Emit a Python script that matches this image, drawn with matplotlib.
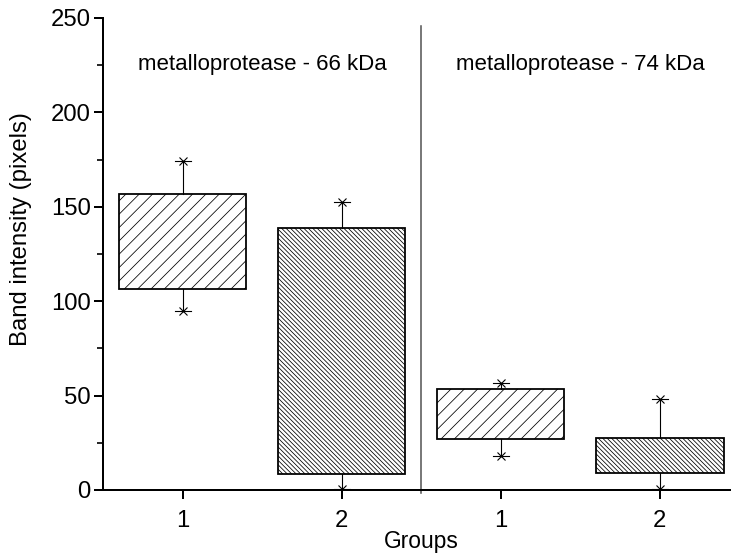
import matplotlib
matplotlib.use("Agg")
import matplotlib.pyplot as plt

# ---- data ----
positions = [1, 2, 3, 4]
tick_labels = ["1", "2", "1", "2"]
q1 = [106.5, 8.3, 27.2, 9.2]
q3 = [156.8, 138.9, 53.3, 27.4]
whislo = [94.8, 0.5, 18.0, 0.5]
whishi = [174.3, 152.4, 56.5, 48.2]
hatches = ["//", "\\\\\\\\\\\\", "//", "\\\\\\\\\\\\"]
panel_titles = ["metalloprotease - 66 kDa", "metalloprotease - 74 kDa"]
panel_centers = [1.5, 3.5]

plt.rcParams["font.family"] = ["Liberation Sans", "DejaVu Sans"]
plt.rcParams["hatch.linewidth"] = 0.7

DPI = 80
fig = plt.figure(figsize=(731 / DPI, 554 / DPI), dpi=DPI)
W, H = 731, 554
ax = fig.add_axes([103 / W, (H - 490) / H, (739.5 - 103) / W, 472 / H])

stats = []
for i in range(len(positions)):
    stats.append(dict(med=(q1[i] + q3[i]) / 2, q1=q1[i], q3=q3[i],
                      whislo=whislo[i], whishi=whishi[i],
                      fliers=[whislo[i], whishi[i]]))

bp = ax.bxp(stats, positions=positions, widths=0.8, patch_artist=True,
            showfliers=True, capwidths=0.1,
            boxprops=dict(facecolor="white", edgecolor="black", linewidth=1.6),
            whiskerprops=dict(color="black", linewidth=1.0),
            capprops=dict(color="black", linewidth=1.0),
            medianprops=dict(visible=False),
            flierprops=dict(marker="x", markersize=7, markeredgecolor="black",
                            markeredgewidth=1.0, linestyle="none"))
for patch, h in zip(bp["boxes"], hatches):
    patch.set_hatch(h)

ax.set_xlim(0.5, 4.5)
ax.set_ylim(0, 250)
ax.set_xticks(positions)
ax.set_xticklabels(tick_labels)
ax.set_yticks(range(0, 251, 50))
ax.set_yticks(range(25, 250, 50), minor=True)

for s in ["top", "right"]:
    ax.spines[s].set_visible(False)
ax.spines["left"].set_linewidth(1.8)
ax.spines["bottom"].set_linewidth(1.8)
ax.tick_params(axis="both", which="major", direction="out", length=8,
               width=1.8, labelsize=21.5)
ax.tick_params(axis="y", which="major", pad=3)
ax.tick_params(axis="x", which="major", pad=10)
ax.tick_params(axis="y", which="minor", direction="out", length=5, width=1.5)
ax.tick_params(axis="x", which="minor", length=0)

# separator between panels
ax.plot([2.5, 2.5], [246, -1.5], color="#555555", linewidth=1.4,
        clip_on=False)

for t, cx in zip(panel_titles, panel_centers):
    ax.text(cx, 225.5, t, ha="center", va="center", fontsize=20)

ax.set_ylabel("Band intensity (pixels)", fontsize=21.5)
ax.yaxis.set_label_coords(-0.112, 0.553)
ax.set_xlabel("Groups", fontsize=20.5, labelpad=-2)

fig.savefig("out.png", dpi=DPI)
